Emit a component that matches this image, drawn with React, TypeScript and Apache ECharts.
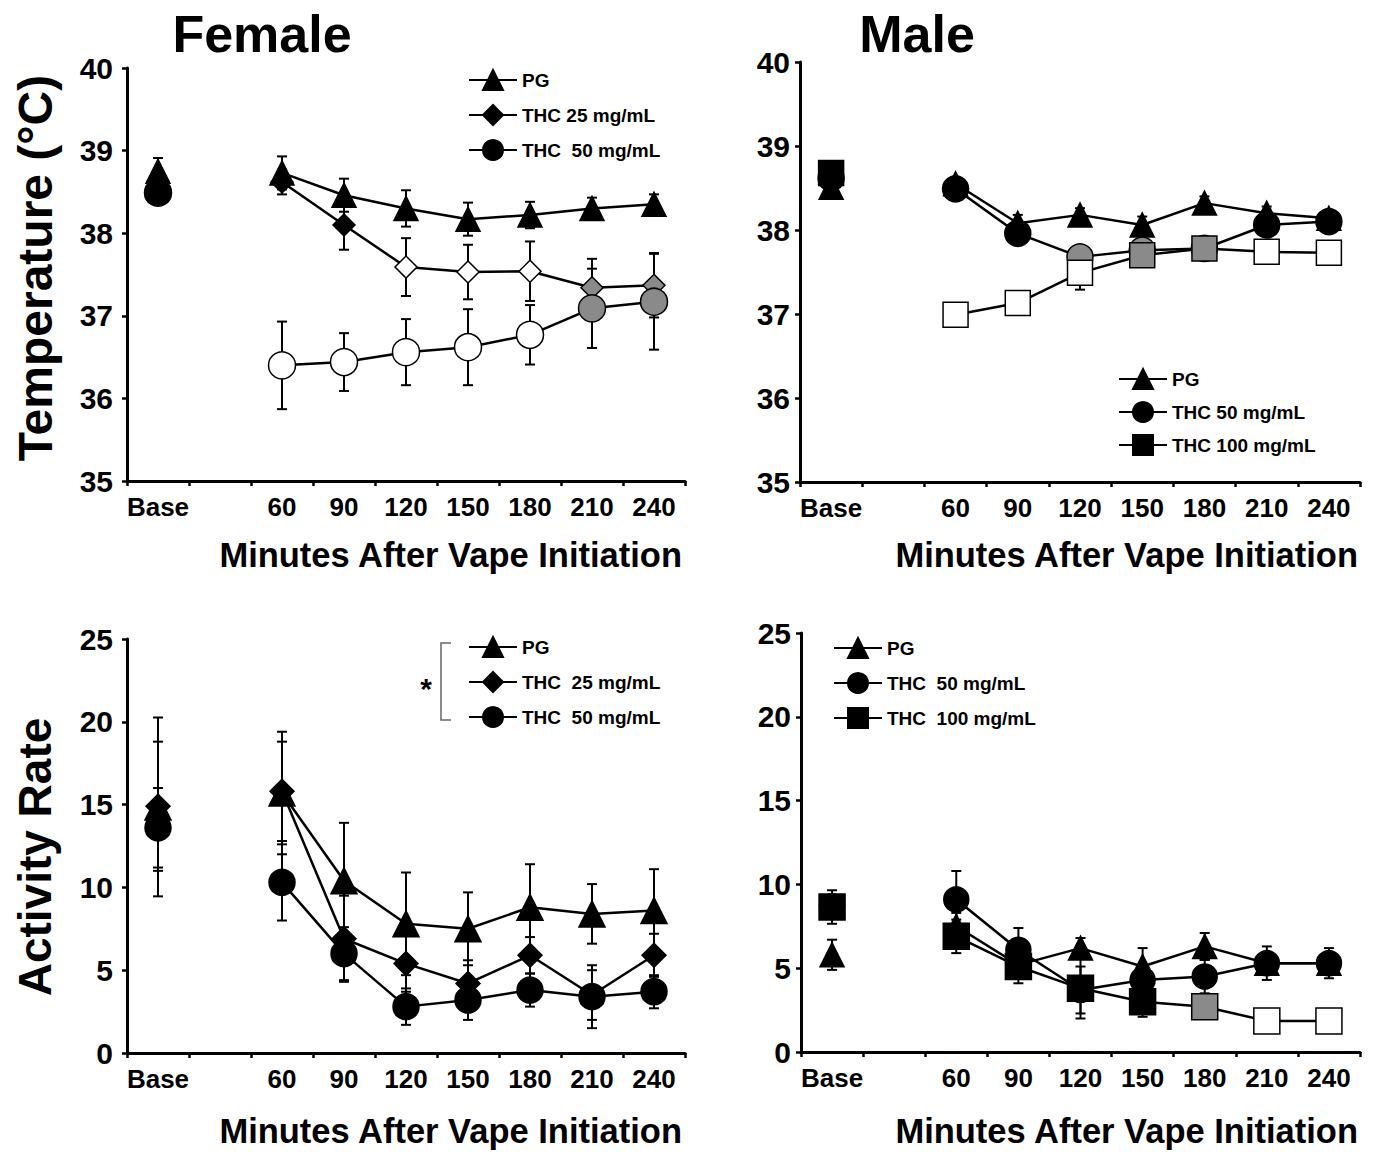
import React, { useEffect, useRef } from 'react';
import * as echarts from 'echarts';

// ---------- categories & ticks ----------
const xCats = ['Base', '', '60', '90', '120', '150', '180', '210', '240'];
const tempRange = [35, 40];
const actRange = [0, 25];

// fill codes: k = black, w = white, g = grey
// ---------- Female temperature ----------
const fTempPG = [38.75, null, 38.73, 38.46, 38.3, 38.17, 38.22, 38.3, 38.35];
const fTempPGErr = [0.16, null, 0.2, 0.2, 0.22, 0.2, 0.16, 0.13, 0.12];
const fTempPGFill = ['k', '', 'k', 'k', 'k', 'k', 'k', 'k', 'k'];
const fTempT25 = [38.63, null, 38.62, 38.1, 37.59, 37.53, 37.54, 37.34, 37.37];
const fTempT25Err = [0.1, null, 0.15, 0.3, 0.35, 0.33, 0.36, 0.35, 0.39];
const fTempT25Fill = ['k', '', 'k', 'k', 'w', 'w', 'w', 'g', 'g'];
const fTempT50 = [38.49, null, 36.4, 36.44, 36.56, 36.62, 36.77, 37.09, 37.17];
const fTempT50Err = [0.06, null, 0.53, 0.35, 0.4, 0.46, 0.36, 0.48, 0.58];
const fTempT50Fill = ['k', '', 'w', 'w', 'w', 'w', 'w', 'g', 'g'];

// ---------- Male temperature ----------
const mTempPG = [38.51, null, 38.55, 38.08, 38.18, 38.06, 38.32, 38.2, 38.14];
const mTempPGErr = [0.05, null, 0.08, 0.1, 0.08, 0.1, 0.08, 0.08, 0.06];
const mTempPGFill = ['k', '', 'k', 'k', 'k', 'k', 'k', 'k', 'k'];
const mTempT50 = [38.62, null, 38.49, 37.96, 37.68, 37.76, 37.78, 38.06, 38.1];
const mTempT50Err = [0.05, null, 0.07, 0.08, 0.1, 0.08, 0.06, 0.08, 0.06];
const mTempT50Fill = ['k', '', 'k', 'k', 'g', 'g', 'g', 'k', 'k'];
const mTempT100 = [38.68, null, 36.99, 37.13, 37.49, 37.7, 37.78, 37.74, 37.73];
const mTempT100Err = [0.1, null, 0.07, 0.06, 0.2, 0.1, 0.06, 0.08, 0.07];
const mTempT100Fill = ['k', '', 'w', 'w', 'w', 'g', 'g', 'w', 'w'];

// ---------- Female activity ----------
const fActPG = [14.86, null, 15.7, 10.4, 7.8, 7.5, 8.8, 8.4, 8.6];
const fActPGErr = [5.4, null, 3.7, 3.5, 3.1, 2.2, 2.6, 1.8, 2.5];
const fActT25 = [14.9, null, 15.8, 6.9, 5.4, 4.2, 5.9, 3.5, 5.9];
const fActT25Err = [3.9, null, 3.0, 2.6, 1.7, 1.4, 1.1, 1.5, 1.3];
const fActT50 = [13.6, null, 10.3, 6.0, 2.8, 3.2, 3.8, 3.4, 3.7];
const fActT50Err = [2.4, null, 2.3, 1.6, 1.1, 1.2, 1.0, 1.9, 1.0];
const fActFill = ['k', '', 'k', 'k', 'k', 'k', 'k', 'k', 'k'];

// ---------- Male activity ----------
const mActPG = [5.8, null, 7.5, 5.2, 6.2, 5.1, 6.3, 5.3, 5.3];
const mActPGErr = [0.9, null, 0.8, 0.6, 0.6, 1.1, 0.8, 0.6, 0.6];
const mActPGFill = ['k', '', 'k', 'k', 'k', 'k', 'k', 'k', 'k'];
const mActT50 = [8.7, null, 9.1, 6.1, 3.7, 4.3, 4.5, 5.3, 5.3];
const mActT50Err = [0.6, null, 1.7, 1.3, 1.4, 0.8, 1.0, 1.0, 0.9];
const mActT50Fill = ['k', '', 'k', 'k', 'g', 'k', 'k', 'k', 'k'];
const mActT100 = [8.65, null, 6.9, 5.1, 3.8, 3.0, 2.7, 1.85, 1.85];
const mActT100Err = [1.0, null, 1.0, 1.0, 1.8, 0.9, 0.3, 0.2, 0.2];
const mActT100Fill = ['k', '', 'k', 'k', 'k', 'k', 'g', 'w', 'w'];

const FONT = '"Liberation Sans", Arial, sans-serif';
const fillColor = (c: string) => (c === 'w' ? '#ffffff' : c === 'g' ? '#8a8a8a' : '#000000');

type Spec = {
  name: string;
  grid: number;
  vals: (number | null)[];
  errs: (number | null)[];
  fills: string[];
  symbol: string;
  size: number;
};

function lineSeries(s: Spec) {
  return {
    type: 'line',
    name: s.name,
    xAxisIndex: s.grid,
    yAxisIndex: s.grid,
    data: s.vals.map((v, i) =>
      v == null ? '-' : { value: v, itemStyle: { color: fillColor(s.fills[i]) } }
    ),
    symbol: s.symbol,
    symbolSize: s.size,
    showAllSymbol: true,
    connectNulls: false,
    lineStyle: { color: '#000', width: 2.5 },
    itemStyle: { color: '#000', borderColor: '#000', borderWidth: 1.5, opacity: 1 },
    z: 3,
  };
}

function errSeries(s: Spec) {
  const data: number[][] = [];
  s.vals.forEach((v, i) => {
    const e = s.errs[i];
    if (v != null && e != null) data.push([i, v, e]);
  });
  return {
    type: 'custom',
    name: s.name + ' err',
    xAxisIndex: s.grid,
    yAxisIndex: s.grid,
    data,
    encode: { x: 0, y: 1 },
    z: 2,
    renderItem: (params: any, api: any) => {
      const i = api.value(0);
      const m = api.value(1);
      const e = api.value(2);
      const top = api.coord([i, m + e]);
      const bot = api.coord([i, m - e]);
      const hw = 5;
      const st = { stroke: '#000', lineWidth: 2 };
      return {
        type: 'group',
        children: [
          { type: 'line', shape: { x1: top[0], y1: top[1], x2: bot[0], y2: bot[1] }, style: st },
          { type: 'line', shape: { x1: top[0] - hw, y1: top[1], x2: top[0] + hw, y2: top[1] }, style: st },
          { type: 'line', shape: { x1: bot[0] - hw, y1: bot[1], x2: bot[0] + hw, y2: bot[1] }, style: st },
        ],
      };
    },
  };
}

const specs: Spec[] = [
  // grid 0: female temperature
  { name: 'TL:THC 25 mg/mL', grid: 0, vals: fTempT25, errs: fTempT25Err, fills: fTempT25Fill, symbol: 'diamond', size: 22 },
  { name: 'TL:THC  50 mg/mL', grid: 0, vals: fTempT50, errs: fTempT50Err, fills: fTempT50Fill, symbol: 'circle', size: 27 },
  { name: 'TL:PG', grid: 0, vals: fTempPG, errs: fTempPGErr, fills: fTempPGFill, symbol: 'triangle', size: 24 },
  // grid 1: male temperature
  { name: 'TR:THC 50 mg/mL', grid: 1, vals: mTempT50, errs: mTempT50Err, fills: mTempT50Fill, symbol: 'circle', size: 26 },
  { name: 'TR:PG', grid: 1, vals: mTempPG, errs: mTempPGErr, fills: mTempPGFill, symbol: 'triangle', size: 24 },
  { name: 'TR:THC 100 mg/mL', grid: 1, vals: mTempT100, errs: mTempT100Err, fills: mTempT100Fill, symbol: 'rect', size: 25 },
  // grid 2: female activity
  { name: 'BL:PG', grid: 2, vals: fActPG, errs: fActPGErr, fills: fActFill, symbol: 'triangle', size: 26 },
  { name: 'BL:THC  25 mg/mL', grid: 2, vals: fActT25, errs: fActT25Err, fills: fActFill, symbol: 'diamond', size: 24 },
  { name: 'BL:THC  50 mg/mL', grid: 2, vals: fActT50, errs: fActT50Err, fills: fActFill, symbol: 'circle', size: 26 },
  // grid 3: male activity
  { name: 'BR:PG', grid: 3, vals: mActPG, errs: mActPGErr, fills: mActPGFill, symbol: 'triangle', size: 24 },
  { name: 'BR:THC  50 mg/mL', grid: 3, vals: mActT50, errs: mActT50Err, fills: mActT50Fill, symbol: 'circle', size: 25 },
  { name: 'BR:THC  100 mg/mL', grid: 3, vals: mActT100, errs: mActT100Err, fills: mActT100Fill, symbol: 'rect', size: 26 },
];

const grids = [
  { left: 127, top: 68, width: 558, height: 413 },
  { left: 800, top: 62, width: 560, height: 420 },
  { left: 127, top: 639, width: 558, height: 414 },
  { left: 801, top: 633, width: 559, height: 419 },
];

function buildOption() {
  const axisLineStyle = { color: '#000', width: 3 };
  const xAxis = grids.map((_, g) => ({
    type: 'category',
    gridIndex: g,
    data: xCats,
    boundaryGap: true,
    axisLine: { show: true, lineStyle: axisLineStyle },
    axisTick: { show: true, length: 5, interval: 0, lineStyle: { color: '#000', width: 2.5 } },
    axisLabel: {
      interval: 0,
      margin: 13,
      color: '#000',
      fontFamily: FONT,
      fontWeight: 'bold',
      fontSize: 26,
    },
    splitLine: { show: false },
  }));
  const yAxis = grids.map((_, g) => {
    const isTemp = g < 2;
    const r = isTemp ? tempRange : actRange;
    return {
      type: 'value',
      gridIndex: g,
      min: r[0],
      max: r[1],
      interval: isTemp ? 1 : 5,
      axisLine: { show: true, lineStyle: axisLineStyle },
      axisTick: { show: true, length: 5, lineStyle: { color: '#000', width: 2.5 } },
      axisLabel: {
        margin: g % 2 === 0 ? 14 : 10,
        color: '#000',
        fontFamily: FONT,
        fontWeight: 'bold',
        fontSize: 30,
      },
      splitLine: { show: false },
    };
  });

  const legendBase = {
    orient: 'vertical',
    itemWidth: 48,
    itemHeight: 25,
    padding: 0,
    selectedMode: false,
    formatter: (n: string) => n.slice(n.indexOf(':') + 1),
    textStyle: { color: '#000', fontFamily: FONT, fontWeight: 'bold', fontSize: 19 },
  };
  const order = (p: string, labels: string[]) => labels.map((l) => p + ':' + l);
  const legend = [
    { ...legendBase, left: 468, top: 69, itemGap: 13, data: order('TL', ['PG', 'THC 25 mg/mL', 'THC  50 mg/mL']) },
    { ...legendBase, left: 1118, top: 368, itemGap: 11, data: order('TR', ['PG', 'THC 50 mg/mL', 'THC 100 mg/mL']) },
    { ...legendBase, left: 468, top: 636, itemGap: 13, data: order('BL', ['PG', 'THC  25 mg/mL', 'THC  50 mg/mL']) },
    { ...legendBase, left: 833, top: 637, itemGap: 13, data: order('BR', ['PG', 'THC  50 mg/mL', 'THC  100 mg/mL']) },
  ];

  const series: any[] = [];
  specs.forEach((s) => series.push(errSeries(s)));
  specs.forEach((s) => series.push(lineSeries(s)));

  const titleStyle = (size: number) => ({
    fill: '#000',
    font: `bold ${size}px ${FONT}`,
    textAlign: 'center',
    textVerticalAlign: 'middle',
  });
  const xName = 'Minutes After Vape Initiation';
  const xNameStyle = { text: xName, fill: '#000', font: `bold 34.5px ${FONT}`, textAlign: 'right', textVerticalAlign: 'middle' };
  const graphic = [
    { type: 'text', x: 262, y: 34, style: { text: 'Female', ...titleStyle(52) } },
    { type: 'text', x: 917, y: 34, style: { text: 'Male', ...titleStyle(52) } },
    { type: 'text', x: 35, y: 268, rotation: Math.PI / 2, style: { text: 'Temperature (°C)', ...titleStyle(48) } },
    { type: 'text', x: 35, y: 857, rotation: Math.PI / 2, style: { text: 'Activity Rate', ...titleStyle(46) } },
    { type: 'text', x: 682, y: 555, style: xNameStyle },
    { type: 'text', x: 1358, y: 555, style: xNameStyle },
    { type: 'text', x: 682, y: 1131, style: xNameStyle },
    { type: 'text', x: 1358, y: 1131, style: xNameStyle },
    {
      type: 'polyline',
      shape: { points: [[451, 643], [441, 643], [441, 720], [451, 720]] },
      style: { stroke: '#666', lineWidth: 1.5, fill: 'none' },
    },
    { type: 'text', x: 426, y: 688, style: { text: '*', ...titleStyle(30) } },
  ];

  return {
    animation: false,
    backgroundColor: '#ffffff',
    grid: grids,
    xAxis,
    yAxis,
    legend,
    series,
    graphic,
  };
}

export default function App() {
  const ref = useRef<HTMLDivElement>(null);
  useEffect(() => {
    if (!ref.current) return;
    const chart = echarts.init(ref.current, undefined, { renderer: 'svg' });
    chart.setOption(buildOption() as any);
    return () => chart.dispose();
  }, []);
  return (
    <div
      ref={ref}
      style={{ position: 'absolute', left: 0, top: 0, width: 1376, height: 1152, background: '#fff' }}
    />
  );
}
